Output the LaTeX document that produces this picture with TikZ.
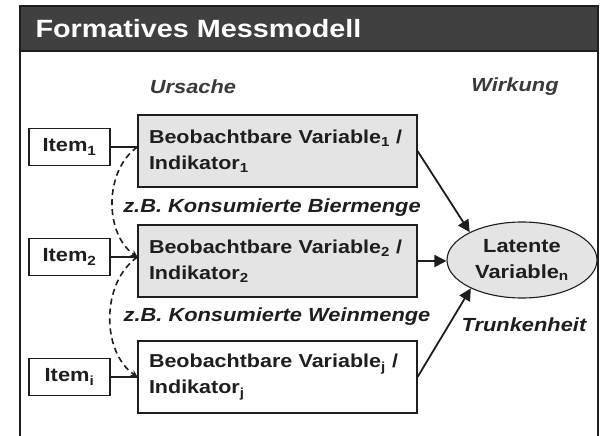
\documentclass[tikz,border=0pt]{standalone}
\usepackage{fontspec}
\setmainfont{Liberation Sans}[FakeStretch=1.15]
\usepackage{xcolor}
\usetikzlibrary{arrows.meta,positioning,shapes.geometric}
\definecolor{ink}    {HTML}{1E1E1E}
\definecolor{barGray}{HTML}{404040}
\definecolor{boxGray}{HTML}{E4E4E4}
\definecolor{capGray}{HTML}{3A3A3A}

\begin{document}
\begin{tikzpicture}[x=1pt, y=-1pt,
  every node/.style={text=ink},
  item/.style={rectangle, draw=ink, line width=1.1pt, minimum width=81pt, minimum height=37pt,
               inner sep=0pt, font=\fontsize{19}{21}\selectfont\bfseries},
  obs/.style={rectangle, draw=ink, line width=1.1pt, fill=boxGray, minimum height=72pt,
              text width=265pt, inner xsep=7pt, align=left, font=\fontsize{18.7}{26}\selectfont\bfseries},
  lat/.style={ellipse, draw=ink, line width=1.1pt, fill=boxGray, minimum width=150pt, minimum height=76pt,
              inner sep=0pt, align=center, font=\fontsize{19}{26}\selectfont\bfseries},
  lbl/.style={font=\fontsize{19}{21}\selectfont\bfseries\itshape},
  conn/.style={draw=ink, line width=1.4pt},
  arr/.style={draw=ink, line width=1.8pt, -{Triangle[length=12pt,width=12pt]}},
  corr/.style={draw=ink, line width=1.6pt, dash pattern=on 6pt off 4pt, -{Stealth[length=7pt,width=7pt]}}
]
\useasboundingbox (0,0) rectangle (600,436);
\fill[barGray] (20,6) rectangle (598,51);
\draw[ink, line width=1.3pt] (20,440) -- (20,6) -- (598,6) -- (598,440);
\draw[ink, line width=1.3pt] (20,51) -- (598,51);
\node[anchor=west, text=white, font=\fontsize{25}{28}\selectfont\bfseries] (title) at (32,29) {Formatives Messmodell};
\node[lbl, text=capGray] (cause)  at (193,87) {Ursache};
\node[lbl, text=capGray] (effect) at (515,87) {Wirkung};
\node[obs] (b1) at (277.5,151) {\hspace*{4pt}Beobachtbare Variable\textsubscript{1} /\\\hspace*{4pt}Indikator\textsubscript{1}};
\node[obs] (b2) at (277.5,261) {\hspace*{4pt}Beobachtbare Variable\textsubscript{2} /\\\hspace*{4pt}Indikator\textsubscript{2}};
\node[obs, fill=white] (b3) at (277.5,377) {\hspace*{4pt}Beobachtbare Variable\textsubscript{j} /\\\hspace*{4pt}Indikator\textsubscript{j}};
\node[item] (i1) at (69.5,147) {Item\textsubscript{1}};
\node[item] (i2) at (69.5,257) {Item\textsubscript{2}};
\node[item] (i3) at (69.5,377) {Item\textsubscript{i}};
\node[lat] (lv) at (522,260) {Latente\\Variable\textsubscript{n}};
\node[lbl] (beer) at (272,208) {z.B. Konsumierte Biermenge};
\node[lbl] (wine) at (277,317) {z.B. Konsumierte Weinmenge};
\node[lbl] (drunk) at (524,325) {Trunkenheit};
\draw[conn] (i1.east) -- (i1.east -| b1.west);
\draw[conn] (i2.east) -- (i2.east -| b2.west);
\draw[conn] (i3.east) -- (i3.east -| b3.west);
\draw[corr] (i1.east -| b1.west) to[out=215, in=145, looseness=0.95] (i2.east -| b2.west);
\draw[corr] (i2.east -| b2.west) to[out=215, in=145, looseness=0.95] (i3.east -| b3.west);
\draw[arr] (b1.east) -- (lv.152);
\draw[arr] (b2.east) -- (b2.east -| lv.west);
\draw[arr] (b3.east) -- (lv.209);
\end{tikzpicture}
\end{document}
